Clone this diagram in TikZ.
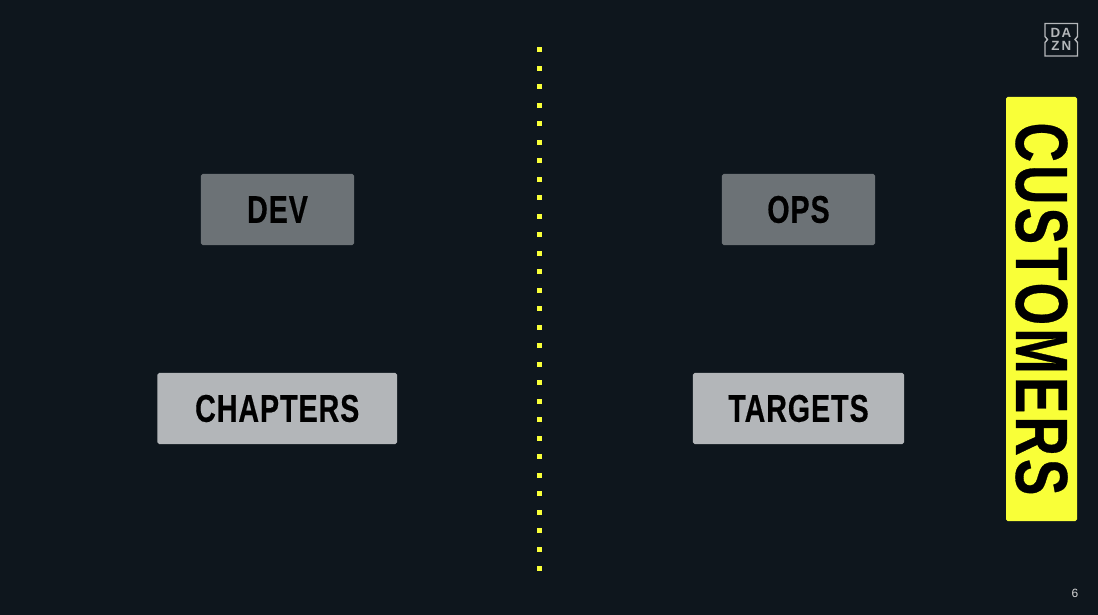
\documentclass[tikz,border=0pt]{standalone}
\usepackage{fontspec}
\setmainfont{Liberation Sans}
\newfontfamily\titlefont[FakeStretch=0.74,LetterSpace=2.5,BoldFeatures={FakeStretch=0.74,LetterSpace=2.5,FakeBold=0.4}]{Liberation Sans}
\newfontfamily\bandeaufont[BoldFeatures={FakeStretch=0.74,LetterSpace=4.2,FakeBold=0.4}]{Liberation Sans}
\definecolor{fond}{HTML}{0E161D}
\definecolor{jaune}{HTML}{F9FF38}
\definecolor{grisfonce}{HTML}{6C7276}
\definecolor{grisclair}{HTML}{B3B6B9}
\definecolor{logo}{HTML}{B4B7BA}
\tikzset{
  boite/.style={inner sep=0pt,rounded corners=0.04cm,minimum height=1.775cm,text=black,font=\titlefont\fontsize{27.5}{30}\selectfont\bfseries},
  lettre/.style={text=logo,inner sep=0pt,font=\fontsize{9.5}{10}\selectfont\bfseries}
}
\begin{document}
\begin{tikzpicture}[x=0.025cm,y=-0.025cm]
\useasboundingbox (0,0) rectangle (1098,615);
% Fond
\fill[fond] (0,0) rectangle (1098,615);
% Boites
\node[boite,fill=grisfonce,minimum width=3.825cm] (dev) at (277.5,209.5) {DEV};
\node[boite,fill=grisfonce,minimum width=3.825cm] (ops) at (798.5,209.5) {OPS};
\node[boite,fill=grisclair,minimum width=5.99cm] (chapters) at (277.25,408.5) {CHAPTERS};
\node[boite,fill=grisclair,minimum width=5.275cm] (targets) at (798.5,408.5) {TARGETS};
% Bandeau
\node[fill=jaune,rounded corners=0.04cm,inner sep=0pt,minimum width=10.6cm,minimum height=1.775cm,rotate=-90,text=black,font=\bandeaufont\fontsize{52.5}{60}\selectfont\bfseries] (customers) at (1041.5,309) {CUSTOMERS};
% Pointilles
\foreach \i in {0,...,28}
  \fill[jaune] (537,{47.5+18.5*\i}) rectangle (542,{52.5+18.5*\i});
% Logo
\draw[logo,line width=1pt] (1045,23.5) -- (1077.5,23.5) -- (1077.5,36.5) -- (1075,39.5) -- (1077.5,42.5) -- (1077.5,56) -- (1045,56) -- (1045,42.5) -- (1047.5,39.5) -- (1045,36.5) -- cycle;
\node[lettre] (d) at (1055.5,32.5) {D};
\node[lettre] (a) at (1066.5,32.5) {A};
\node[lettre] (z) at (1055.5,46) {Z};
\node[lettre] (n) at (1066.5,46) {N};
% Numero
\node[text=white!85!black,inner sep=0pt,font=\fontsize{8.5}{10}\selectfont] (page) at (1075,593.5) {6};
\end{tikzpicture}
\end{document}
